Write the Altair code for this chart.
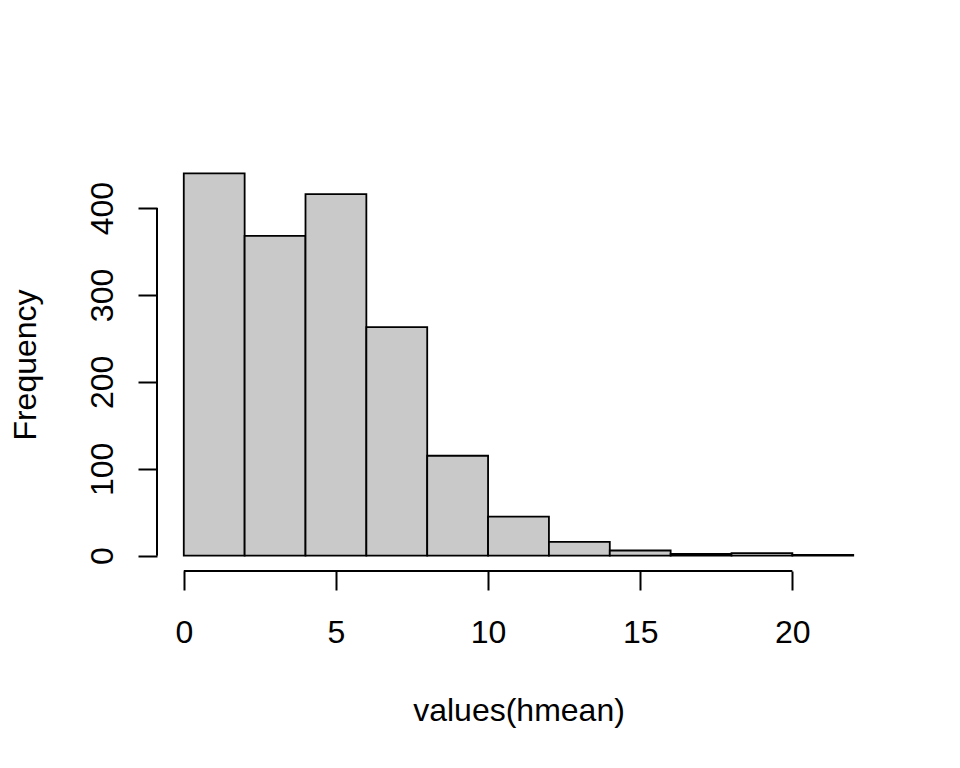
import altair as alt
import pandas as pd

bin_start = [0, 2, 4, 6, 8, 10, 12, 14, 16, 18, 20]
bin_end = [2, 4, 6, 8, 10, 12, 14, 16, 18, 20, 22]
counts = [440, 368, 416, 263, 115, 45, 16, 6, 2, 3, 1]
x_ticks = [0, 5, 10, 15, 20]
y_ticks = [0, 100, 200, 300, 400]

bars = pd.DataFrame({"start": bin_start, "end": bin_end, "count": counts})
xaxis_df = pd.DataFrame({"a": [x_ticks[0]], "b": [x_ticks[-1]]})
yaxis_df = pd.DataFrame({"a": [y_ticks[0]], "b": [y_ticks[-1]]})

W, H = 723, 413
FONT = "Liberation Sans"
FS = 32

xscale = alt.Scale(domain=[-0.88, 22.88], nice=False, zero=False)
yscale = alt.Scale(domain=[-17.6, 457.6], nice=False, zero=False)

xaxis = alt.Axis(
    values=x_ticks, domain=False, grid=False, tickSize=19, tickWidth=2,
    tickColor="black", labelFont=FONT, labelFontSize=FS, labelColor="black",
    labelPadding=52, labelBaseline="alphabetic", labelAngle=0,
    title="values(hmean)", titleFont=FONT, titleFontSize=FS, titleFontWeight="normal",
    titleColor="black", titleBaseline="alphabetic", titleX=W / 2, titleY=149,
    titleAlign="center",
)
yaxis = alt.Axis(
    values=y_ticks, domain=False, grid=False, tickSize=19, tickWidth=2,
    tickColor="black", labelFont=FONT, labelFontSize=FS, labelColor="black",
    labelAngle=-90, labelAlign="center", labelBaseline="alphabetic", labelPadding=26,
    title="Frequency", titleFont=FONT, titleFontSize=FS, titleFontWeight="normal",
    titleColor="black", titleAngle=-90, titleBaseline="alphabetic", titleAlign="center",
    titleX=-122, titleY=H / 2,
)

rects = alt.Chart(bars).mark_rect(
    fill="#C9C9C9", stroke="black", strokeWidth=1.8
).encode(
    x=alt.X("start:Q", scale=xscale, axis=xaxis),
    x2="end:Q",
    y=alt.Y("count:Q", scale=yscale, axis=yaxis),
    y2=alt.datum(0),
)

xline = alt.Chart(xaxis_df).mark_rule(color="black", strokeWidth=2).encode(
    x=alt.X("a:Q", scale=xscale), x2="b:Q", y=alt.value(H)
)
yline = alt.Chart(yaxis_df).mark_rule(color="black", strokeWidth=2).encode(
    y=alt.Y("a:Q", scale=yscale), y2="b:Q", x=alt.value(0)
)

chart = alt.layer(rects, xline, yline).properties(
    width=W, height=H,
    autosize=alt.AutoSizeParams(type="none"),
    padding={"left": 149, "top": 150, "right": 72, "bottom": 189},
).configure(
    background="white",
    view=alt.ViewConfig(stroke="transparent", strokeWidth=0),
)

chart.save("out.html", embed_options={"renderer": "svg", "actions": False})
